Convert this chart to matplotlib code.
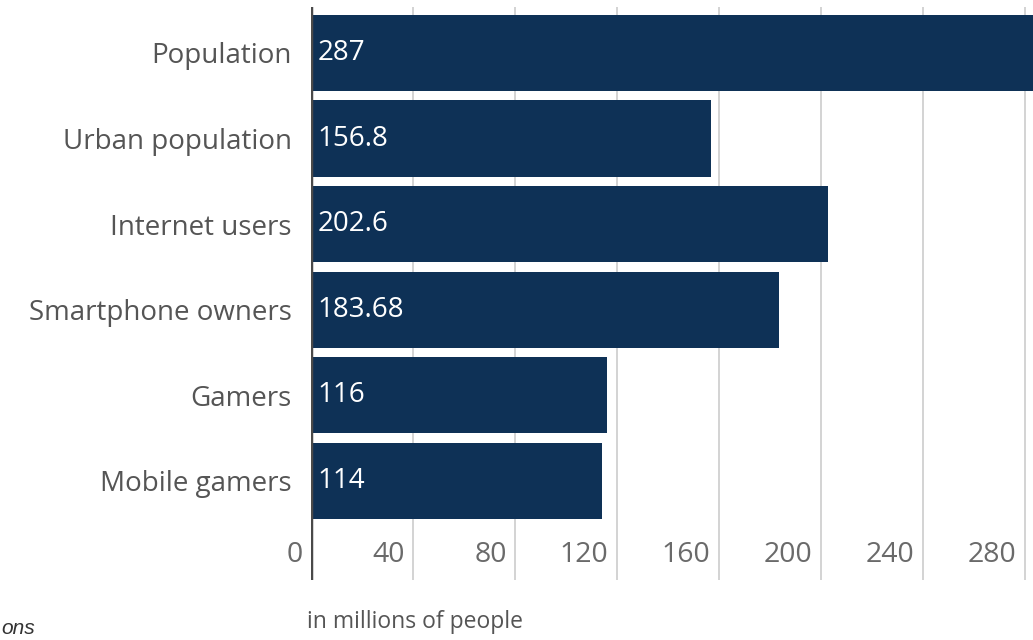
import matplotlib.pyplot as plt

plt.rcParams['font.family'] = ['Open Sans', 'DejaVu Sans']

# data
categories = ['Population', 'Urban population', 'Internet users',
              'Smartphone owners', 'Gamers', 'Mobile gamers']
values = [287, 156.8, 202.6, 183.68, 116, 114]
value_labels = ['287', '156.8', '202.6', '183.68', '116', '114']
x_ticks = [0, 40, 80, 120, 160, 200, 240, 280]

bar_color = '#0e3156'

fig = plt.figure(figsize=(10.33, 6.4), dpi=100)
# axes runs past the right edge, the reference is cropped there
ax = fig.add_axes([311 / 1033, 1 - 580 / 640, (1033 - 311) / 1033, (580 - 7) / 640])

pos = list(range(len(categories)))
ax.barh(pos, values, height=0.89, color=bar_color, zorder=2)

ax.set_xlim(0, (1033 - 311) / 2.55)
ax.set_ylim(6.157, -0.537)

# vertical grid lines running the full height (also through the tick label zone)
for t in x_ticks[1:]:
    ax.axvline(t, color='#cccccc', lw=1.2, zorder=1)
ax.axvline(0, color='#4a4a4a', lw=2.5, zorder=3)

for s in ax.spines.values():
    s.set_visible(False)
ax.set_xticks([])
ax.set_yticks(pos)
ax.set_yticklabels(categories, fontsize=20, color='#555555')
ax.tick_params(axis='y', length=0, pad=14)

# value labels inside the bars
for p, lab in zip(pos, value_labels):
    ax.annotate(lab, (0, p), xytext=(4.5, 0), textcoords='offset points',
                ha='left', va='center', color='white', fontsize=20, zorder=4)

# x tick labels sit to the left of each grid line
for t in x_ticks:
    ax.annotate(str(t), (t, 5.86), xytext=(-6, 0), textcoords='offset points',
                ha='right', va='center', color='#6a6a6a', fontsize=20.5,
                annotation_clip=False)

fig.text(307 / 1033, 1 - 622 / 640, 'in millions of people', fontsize=16.5,
         color='#555555', ha='left', va='center')
fig.text(1 / 1033, 1 - 628 / 640, 'ons', fontsize=15, color='#333333',
         ha='left', va='center', style='italic', family=['Liberation Sans', 'DejaVu Sans'])

fig.savefig('out.png', dpi=100)
